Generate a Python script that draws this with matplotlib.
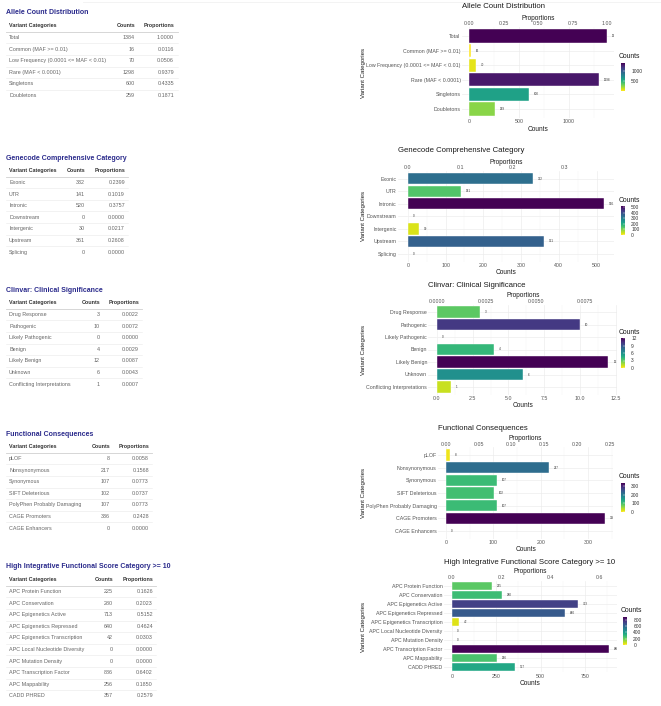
import matplotlib.pyplot as plt
from matplotlib import colors
from matplotlib.lines import Line2D
from matplotlib.colorbar import ColorbarBase

plt.rcParams["font.family"] = ["Liberation Sans", "DejaVu Sans"]

W, H = 661, 706
TOTAL = 1384

# ---- data ----
allele_cats = ["Total", "Common (MAF >= 0.01)", "Low Frequency (0.0001 <= MAF < 0.01)",
               "Rare (MAF < 0.0001)", "Singletons", "Doubletons"]
allele_counts = [1384, 16, 70, 1298, 600, 259]
allele_props = [1.0000, 0.0116, 0.0506, 0.9379, 0.4335, 0.1871]

gencode_cats = ["Exonic", "UTR", "Intronic", "Downstream", "Intergenic", "Upstream", "Splicing"]
gencode_counts = [332, 141, 520, 0, 30, 361, 0]
gencode_props = [0.2399, 0.1019, 0.3757, 0.0000, 0.0217, 0.2608, 0.0000]

clinvar_cats = ["Drug Response", "Pathogenic", "Likely Pathogenic", "Benign", "Likely Benign",
                "Unknown", "Conflicting Interpretations"]
clinvar_counts = [3, 10, 0, 4, 12, 6, 1]
clinvar_props = [0.0022, 0.0072, 0.0000, 0.0029, 0.0087, 0.0043, 0.0007]

func_cats = ["pLOF", "Nonsynonymous", "Synonymous", "SIFT Deleterious",
             "PolyPhen Probably Damaging", "CAGE Promoters", "CAGE Enhancers"]
func_counts = [8, 217, 107, 102, 107, 336, 0]
func_props = [0.0058, 0.1568, 0.0773, 0.0737, 0.0773, 0.2428, 0.0000]

hifs_cats = ["APC Protein Function", "APC Conservation", "APC Epigenetics Active",
             "APC Epigenetics Repressed", "APC Epigenetics Transcription",
             "APC Local Nucleotide Diversity", "APC Mutation Density",
             "APC Transcription Factor", "APC Mappability", "CADD PHRED"]
hifs_counts = [225, 280, 713, 640, 42, 0, 0, 886, 256, 357]
hifs_props = [0.1626, 0.2023, 0.5152, 0.4624, 0.0303, 0.0000, 0.0000, 0.6402, 0.1850, 0.2579]

# axis ticks (bottom = counts, top = proportions, legend = colour bar)
allele_xticks = [0, 500, 1000]
allele_pticks = [0.00, 0.25, 0.50, 0.75, 1.00]
allele_plabels = ["0.00", "0.25", "0.50", "0.75", "1.00"]
allele_lticks = [500, 1000]

gencode_xticks = [0, 100, 200, 300, 400, 500]
gencode_pticks = [0.0, 0.1, 0.2, 0.3]
gencode_plabels = ["0.0", "0.1", "0.2", "0.3"]
gencode_lticks = [0, 100, 200, 300, 400, 500]

clinvar_xticks = [0.0, 2.5, 5.0, 7.5, 10.0, 12.5]
clinvar_pticks = [0.0, 0.0025, 0.0050, 0.0075]
clinvar_plabels = ["0.0000", "0.0025", "0.0050", "0.0075"]
clinvar_lticks = [0, 3, 6, 9, 12]

func_xticks = [0, 100, 200, 300]
func_pticks = [0.00, 0.05, 0.10, 0.15, 0.20, 0.25]
func_plabels = ["0.00", "0.05", "0.10", "0.15", "0.20", "0.25"]
func_lticks = [0, 100, 200, 300]

hifs_xticks = [0, 250, 500, 750]
hifs_pticks = [0.0, 0.2, 0.4, 0.6]
hifs_plabels = ["0.0", "0.2", "0.4", "0.6"]
hifs_lticks = [0, 200, 400, 600, 800]

NAVY = "#2b2b8c"
GRAY_TXT = "#555555"
cmap = plt.get_cmap("viridis_r")


def fx(x):
    return x / W


def fy(y):
    return 1 - y / H


def draw_table(fig, title, cats, counts, props, title_y, counts_x, props_x, right):
    fig.text(fx(6), fy(title_y), title, color=NAVY, fontsize=5, fontweight="bold",
             ha="left", va="center")
    head_y = title_y + 12.5
    hkw = dict(fontsize=3.9, fontweight="bold", color="#333333", va="center")
    fig.text(fx(9), fy(head_y), "Variant Categories", ha="left", **hkw)
    fig.text(fx(counts_x), fy(head_y), "Counts", ha="right", **hkw)
    fig.text(fx(props_x), fy(head_y), "Proportions", ha="right", **hkw)
    fig.add_artist(Line2D([fx(6), fx(right)], [fy(head_y + 6)] * 2,
                          color="#d0d0d0", lw=0.6))
    rkw = dict(fontsize=3.9, color="#666666", va="center")
    for i, (cat, n, p) in enumerate(zip(cats, counts, props)):
        y = head_y + 12 + i * 11.6
        fig.text(fx(9), fy(y), cat, ha="left", **rkw)
        fig.text(fx(counts_x), fy(y), str(n), ha="right", **rkw)
        fig.text(fx(props_x), fy(y), f"{p:.4f}", ha="right", **rkw)
        if i < len(cats) - 1:
            fig.add_artist(Line2D([fx(6), fx(right)], [fy(y + 5.8)] * 2,
                                  color="#e8e8e8", lw=0.4))


def draw_chart(fig, title, cats, counts, vmin, xticks, pticks, plabels, lticks,
               box, title_y, cbox, ctitle_y):
    left, top, right, bottom = box
    ax = fig.add_axes([fx(left), fy(bottom), (right - left) / W, (bottom - top) / H])
    n = len(cats)
    ys = list(range(n))
    vmax = max(counts)
    norm = colors.Normalize(vmin=vmin, vmax=vmax)

    ax.barh(ys, counts, height=0.9, color=cmap(norm(counts)), edgecolor="white",
            linewidth=0.3, zorder=2)
    for y, c in zip(ys, counts):
        ax.annotate(str(c), (c, y), xytext=(3.5, 0), textcoords="offset points",
                    fontsize=2.2, ha="left", va="center", color="#333333", clip_on=True)

    ax.set_xlim(-0.05 * vmax, 1.05 * vmax)
    ax.set_ylim(n - 0.4, -0.6)
    ax.set_yticks(ys, cats)
    ax.set_xticks(xticks, [f"{t:g}" if isinstance(t, int) else f"{t:.1f}" for t in xticks])
    step = xticks[1] - xticks[0]
    minors = [t + step / 2 for t in xticks if t + step / 2 < 1.05 * vmax]
    ax.set_xticks(minors, minor=True)
    ax.tick_params(axis="both", which="both", length=0, labelsize=3.8,
                   colors=GRAY_TXT)
    ax.tick_params(axis="x", pad=1.2)
    ax.tick_params(axis="y", pad=1.0)
    ax.grid(which="major", color="#ebebeb", lw=0.45)
    ax.grid(which="minor", axis="x", color="#f3f3f3", lw=0.3)
    ax.set_axisbelow(True)
    for s in ax.spines.values():
        s.set_visible(False)
    ax.set_xlabel("Counts", fontsize=4.7, labelpad=0.8, color="#1a1a1a")

    sec = ax.secondary_xaxis("top", functions=(lambda c: c / TOTAL, lambda p: p * TOTAL))
    sec.set_xticks(pticks, plabels)
    sec.tick_params(length=0, labelsize=3.8, pad=0.6, colors=GRAY_TXT)
    sec.set_xlabel("Proportions", fontsize=4.7, labelpad=1.0, color="#1a1a1a")
    for s in sec.spines.values():
        s.set_visible(False)

    fig.text(fx(left), fy(title_y), title, fontsize=5.6, color="#1a1a1a",
             ha="left", va="center")
    fig.text(fx(363), fy((top + bottom) / 2), "Variant Categories", rotation=90,
             fontsize=4.4, color="#1a1a1a", ha="center", va="center")

    x0, y0, x1, y1 = cbox
    cax = fig.add_axes([fx(x0), fy(y1), (x1 - x0) / W, (y1 - y0) / H])
    cb = ColorbarBase(cax, cmap=cmap, norm=norm, orientation="vertical")
    cb.set_ticks(lticks)
    cb.outline.set_visible(False)
    cax.tick_params(length=1.2, width=0.3, color="white", direction="in",
                    labelsize=3.5, pad=4.5, labelcolor="#333333")
    fig.text(fx(x0 - 2), fy(ctitle_y), "Counts", fontsize=4.9, color="#1a1a1a",
             ha="left", va="center")


fig = plt.figure(figsize=(W / 100, H / 100), dpi=100)
fig.add_artist(Line2D([fx(83), fx(661)], [fy(2)] * 2, color="#eeeeee", lw=0.5))

draw_table(fig, "Allele Count Distribution", allele_cats, allele_counts, allele_props,
           13, 135, 174, 178)
draw_table(fig, "Genecode Comprehensive Category", gencode_cats, gencode_counts,
           gencode_props, 158, 85, 125, 128)
draw_table(fig, "Clinvar: Clinical Significance", clinvar_cats, clinvar_counts,
           clinvar_props, 290, 100, 139, 142)
draw_table(fig, "Functional Consequences", func_cats, func_counts, func_props,
           434, 110, 149, 152)
draw_table(fig, "High Integrative Functional Score Category >= 10", hifs_cats,
           hifs_counts, hifs_props, 567, 113, 153, 156)

draw_chart(fig, "Allele Count Distribution", allele_cats, allele_counts, min(allele_counts),
           allele_xticks, allele_pticks, allele_plabels, allele_lticks,
           (462, 27.2, 614, 117.8), 7, (621, 63, 625, 91), 57)
draw_chart(fig, "Genecode Comprehensive Category", gencode_cats, gencode_counts, 0,
           gencode_xticks, gencode_pticks, gencode_plabels, gencode_lticks,
           (398, 171.2, 614, 261.5), 151, (621, 206, 625, 235), 200)
draw_chart(fig, "Clinvar: Clinical Significance", clinvar_cats, clinvar_counts, 0,
           clinvar_xticks, clinvar_pticks, clinvar_plabels, clinvar_lticks,
           (428.4, 304.5, 617, 394.5), 285, (621, 338, 625, 368), 332)
draw_chart(fig, "Functional Consequences", func_cats, func_counts, 0,
           func_xticks, func_pticks, func_plabels, func_lticks,
           (438, 447.4, 613, 538.6), 428, (621, 483, 625, 512), 477)
draw_chart(fig, "High Integrative Functional Score Category >= 10", hifs_cats, hifs_counts, 0,
           hifs_xticks, hifs_pticks, hifs_plabels, hifs_lticks,
           (444, 580.6, 617, 672.4), 562, (623, 617, 627, 645), 611)

fig.savefig("out.png", dpi=100)
